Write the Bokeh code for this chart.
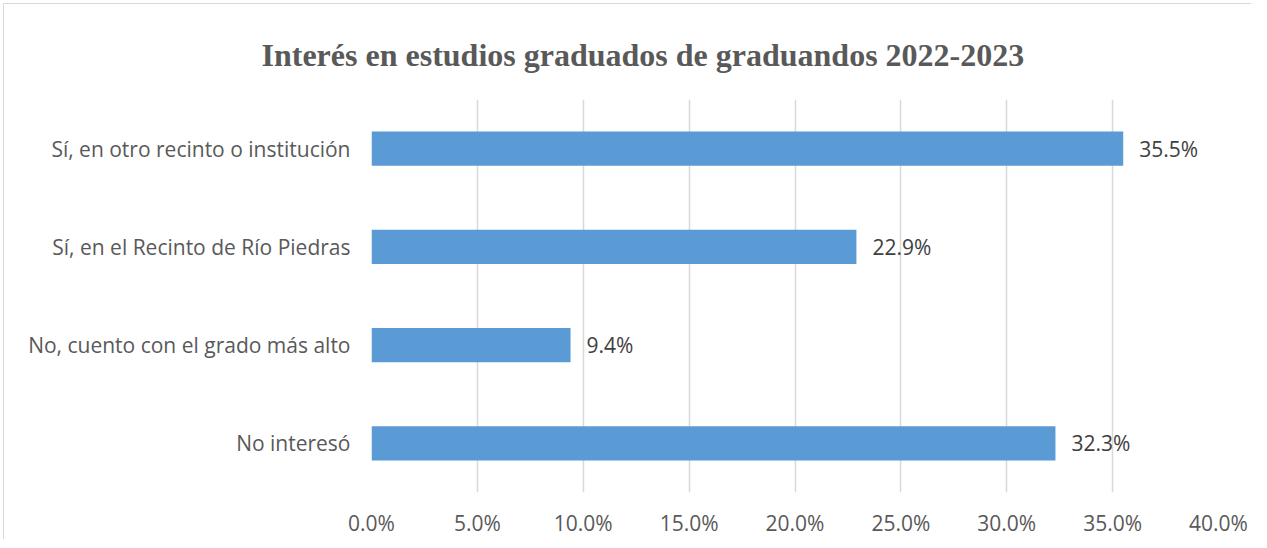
from bokeh.plotting import figure
from bokeh.models import Range1d, FixedTicker, PrintfTickFormatter, ColumnDataSource, Title
from bokeh.core.properties import value
from bokeh.embed import file_html
from bokeh.resources import INLINE

title_text = "Interés en estudios graduados de graduandos 2022-2023"
categories = ["No interesó", "No, cuento con el grado más alto",
              "Sí, en el Recinto de Río Piedras", "Sí, en otro recinto o institución"]
values = [32.3, 9.4, 22.9, 35.5]
labels = ["32.3%", "9.4%", "22.9%", "35.5%"]
x_ticks = [0, 5, 10, 15, 20, 25, 30, 35, 40]

FONT = "Open Sans"
source = ColumnDataSource(dict(cat=categories, val=values, lab=labels))

p = figure(y_range=categories, x_range=Range1d(0, 40),
           frame_width=847, frame_height=393,
           min_border_left=367, min_border_top=95, min_border_right=33, min_border_bottom=41,
           output_backend="svg", toolbar_location=None)
p.styles = {"margin-left": "3px", "margin-top": "3px",
            "border-top": "1px solid #D9D9D9", "border-left": "1px solid #D9D9D9"}

p.hbar(y="cat", right="val", left=0, height=0.35, source=source,
       fill_color="#5B9BD5", line_color=None)
p.text(x="val", y="cat", text="lab", source=source, x_offset=16,
       text_align="left", text_baseline="middle",
       text_font=value(FONT), text_font_size="21px", text_color="#404040")

t = Title(text=title_text, align="left", offset=-110, standoff=50,
          vertical_align="top",
          text_font="Liberation Serif", text_font_style="bold",
          text_font_size="32px", text_color="#595959")
p.add_layout(t, "above")

p.outline_line_color = None
p.background_fill_color = "white"
p.border_fill_color = "white"

p.xgrid.ticker = FixedTicker(ticks=x_ticks)
p.xgrid.grid_line_color = "#D9D9D9"
p.xgrid.grid_line_width = 1.5
p.ygrid.grid_line_color = None

p.xaxis.ticker = FixedTicker(ticks=x_ticks)
p.xaxis.formatter = PrintfTickFormatter(format="%.1f%%")
for ax in (p.xaxis, p.yaxis):
    ax.axis_line_color = None
    ax.major_tick_line_color = None
    ax.minor_tick_line_color = None
    ax.major_label_text_font = FONT
    ax.major_label_text_font_size = "21px"
    ax.major_label_text_color = "#595959"
p.xaxis.major_label_standoff = 10
p.yaxis.major_label_standoff = 15

open("out.html", "w").write(file_html(p, INLINE))
